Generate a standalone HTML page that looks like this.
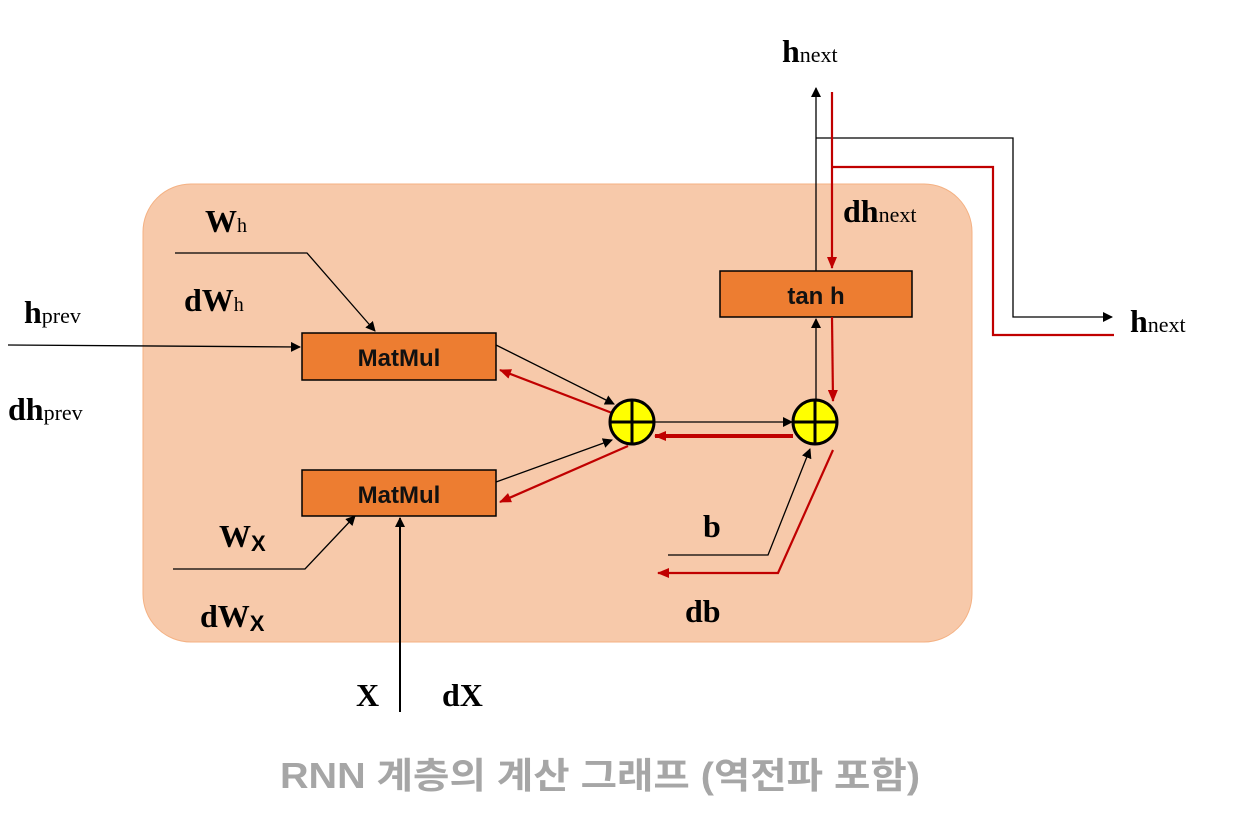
<!DOCTYPE html>
<html><head><meta charset="utf-8">
<style>
html,body{margin:0;padding:0;background:#fff;}
svg{display:block;}
.s{font-family:"Liberation Serif",serif;font-weight:bold;fill:#000;}
.sub{font-family:"Liberation Serif",serif;font-weight:normal;}
.box{font-family:"Liberation Sans",sans-serif;font-weight:bold;font-size:24px;fill:#111;}
</style></head>
<body>
<svg width="1242" height="832" viewBox="0 0 1242 832" xmlns="http://www.w3.org/2000/svg">
<defs>
<marker id="ab" markerWidth="10" markerHeight="10" refX="9" refY="5" orient="auto" markerUnits="userSpaceOnUse"><path d="M0,0 L10,5 L0,10 z" fill="#000"/></marker>
<marker id="ar" markerWidth="12" markerHeight="10" refX="11" refY="5" orient="auto" markerUnits="userSpaceOnUse"><path d="M0,0 L12,5 L0,10 z" fill="#c00000"/></marker>
</defs>
<rect x="143" y="184" width="829" height="458" rx="48" fill="#f7c9aa" stroke="#f4b183" stroke-width="1"/>

<!-- boxes -->
<rect x="302" y="333" width="194" height="47" fill="#ed7d31" stroke="#000" stroke-width="1.5"/>
<text x="399" y="366" text-anchor="middle" class="box">MatMul</text>
<rect x="302" y="470" width="194" height="46" fill="#ed7d31" stroke="#000" stroke-width="1.5"/>
<text x="399" y="503" text-anchor="middle" class="box">MatMul</text>
<rect x="720" y="271" width="192" height="46" fill="#ed7d31" stroke="#000" stroke-width="1.5"/>
<text x="816" y="304" text-anchor="middle" class="box">tan h</text>

<!-- black connectors -->
<g stroke="#000" stroke-width="1.3" fill="none">
<line x1="8" y1="345" x2="300" y2="347" marker-end="url(#ab)"/>
<polyline points="175,253 307,253 375,331" marker-end="url(#ab)"/>
<polyline points="173,569 305,569 355,516" marker-end="url(#ab)"/>
<line x1="400" y1="712" x2="400" y2="518" stroke-width="2" marker-end="url(#ab)"/>
<line x1="496" y1="345" x2="614" y2="404" marker-end="url(#ab)"/>
<line x1="496" y1="482" x2="612" y2="440" marker-end="url(#ab)"/>
<line x1="654" y1="422" x2="792" y2="422" marker-end="url(#ab)"/>
<polyline points="668,555 768,555 810,449" marker-end="url(#ab)"/>
<line x1="816" y1="400" x2="816" y2="319" marker-end="url(#ab)"/>
<line x1="816" y1="271" x2="816" y2="88" marker-end="url(#ab)"/>
<polyline points="816,138 1013,138 1013,317 1112,317" marker-end="url(#ab)"/>
</g>

<!-- red connectors -->
<g stroke="#c00000" stroke-width="2.2" fill="none">
<line x1="832" y1="92" x2="832" y2="268" marker-end="url(#ar)"/>
<polyline points="832,167 993,167 993,335 1114,335"/>
<line x1="832" y1="317" x2="833" y2="401" marker-end="url(#ar)"/>
<line x1="793" y1="436" x2="655" y2="436" stroke-width="4" marker-end="url(#ar)"/>
<line x1="620" y1="416" x2="500" y2="370" marker-end="url(#ar)"/>
<line x1="628" y1="446" x2="500" y2="502" marker-end="url(#ar)"/>
<polyline points="833,450 778,573 658,573" marker-end="url(#ar)"/>
</g>

<!-- sum nodes -->
<g stroke="#000" stroke-width="3">
<circle cx="632" cy="422" r="22" fill="#ffff00"/>
<line x1="632" y1="400" x2="632" y2="444"/><line x1="610" y1="422" x2="654" y2="422"/>
<circle cx="815" cy="422" r="22" fill="#ffff00"/>
<line x1="815" y1="400" x2="815" y2="444"/><line x1="793" y1="422" x2="837" y2="422"/>
</g>

<!-- labels -->
<text x="782" y="62" class="s" font-size="32">h<tspan class="sub" font-size="22">next</tspan></text>
<text x="843" y="222" class="s" font-size="32">dh<tspan class="sub" font-size="22">next</tspan></text>
<text x="1130" y="332" class="s" font-size="32">h<tspan class="sub" font-size="22">next</tspan></text>
<text x="205" y="232" class="s" font-size="32">W<tspan class="sub" font-size="20">h</tspan></text>
<text x="184" y="311" class="s" font-size="32">dW<tspan class="sub" font-size="20">h</tspan></text>
<text x="24" y="323" class="s" font-size="32">h<tspan class="sub" font-size="22">prev</tspan></text>
<text x="8" y="420" class="s" font-size="32">dh<tspan class="sub" font-size="22">prev</tspan></text>
<text x="219" y="547" class="s" font-size="32">W<tspan font-size="22" dy="4" font-family="Liberation Sans, sans-serif">X</tspan></text>
<text x="200" y="627" class="s" font-size="32">dW<tspan font-size="22" dy="4" font-family="Liberation Sans, sans-serif">X</tspan></text>
<text x="356" y="706" class="s" font-size="32">X</text>
<text x="442" y="706" class="s" font-size="32">dX</text>
<text x="703" y="537" class="s" font-size="32">b</text>
<text x="685" y="622" class="s" font-size="32">db</text>

<text x="600" y="788" text-anchor="middle" font-family="'Liberation Sans','Noto Sans CJK KR',sans-serif" font-weight="bold" font-size="36" fill="#a6a6a6" textLength="640" lengthAdjust="spacingAndGlyphs">RNN 계층의 계산 그래프 (역전파 포함)</text>
</svg>
</body></html>
